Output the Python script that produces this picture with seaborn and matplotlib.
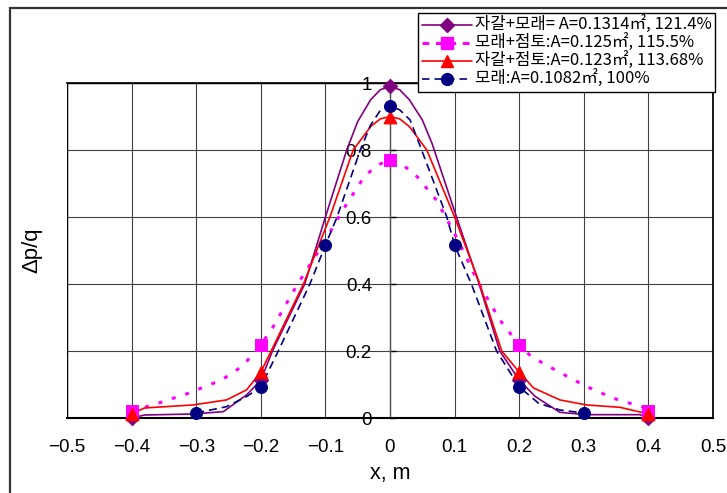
import matplotlib
matplotlib.use("Agg")
import matplotlib.pyplot as plt
import seaborn as sns
from matplotlib.lines import Line2D
from matplotlib.patches import Rectangle

# Marker points (x in m, dp/q)
gp_x = [-0.4, -0.2, 0.0, 0.2, 0.4]        # 자갈+모래
gp_y = [0.0, 0.113, 0.99, 0.113, 0.0]
sc_x = [-0.4, -0.2, 0.0, 0.2, 0.4]        # 모래+점토
sc_y = [0.02, 0.218, 0.77, 0.218, 0.02]
gc_x = [-0.4, -0.2, 0.0, 0.2, 0.4]        # 자갈+점토
gc_y = [0.012, 0.137, 0.90, 0.137, 0.012]
sd_x = [-0.3, -0.2, -0.1, 0.0, 0.1, 0.2, 0.3]  # 모래
sd_y = [0.015, 0.093, 0.516, 0.932, 0.516, 0.093, 0.015]

# Smoothed curves
gp_cx = [-0.4, -0.38, -0.305, -0.258, -0.222, -0.2, -0.182, -0.132, -0.1, -0.067, -0.05,
         -0.03, -0.015, 0.0, 0.015, 0.03, 0.05, 0.065, 0.103, 0.138, 0.17, 0.2, 0.225, 0.263,
         0.304, 0.387, 0.4]
gp_cy = [0.0, 0.009, 0.012, 0.019, 0.069, 0.113, 0.2, 0.4, 0.6, 0.8, 0.885,
         0.95, 0.98, 0.99, 0.98, 0.95, 0.89, 0.82, 0.6, 0.4, 0.2, 0.113, 0.064, 0.017,
         0.01, 0.01, 0.0]
sc_cx = [-0.4, -0.356, -0.312, -0.268, -0.248, -0.227, -0.2, -0.181, -0.143, -0.1, -0.075,
         -0.04, -0.02, 0.0, 0.02, 0.04, 0.072, 0.103, 0.137, 0.17, 0.2, 0.219, 0.261, 0.302,
         0.346, 0.392, 0.4]
sc_cy = [0.02, 0.046, 0.074, 0.108, 0.128, 0.158, 0.218, 0.272, 0.4, 0.53, 0.615,
         0.72, 0.755, 0.77, 0.755, 0.725, 0.65, 0.54, 0.403, 0.293, 0.218, 0.183, 0.138, 0.096,
         0.059, 0.032, 0.02]
gc_cx = [-0.4, -0.38, -0.305, -0.253, -0.222, -0.2, -0.184, -0.134, -0.093, -0.057, -0.03,
         -0.015, 0.0, 0.015, 0.03, 0.057, 0.1, 0.139, 0.173, 0.2, 0.222, 0.263, 0.304, 0.356, 0.4]
gc_cy = [0.012, 0.03, 0.039, 0.054, 0.084, 0.137, 0.2, 0.4, 0.6, 0.8, 0.87,
         0.893, 0.90, 0.893, 0.87, 0.8, 0.6, 0.4, 0.2, 0.137, 0.09, 0.054, 0.039, 0.032, 0.012]
sd_cx = [-0.3, -0.253, -0.222, -0.2, -0.173, -0.124, -0.1, -0.082, -0.046, -0.03, -0.015,
         0.0, 0.015, 0.031, 0.049, 0.088, 0.1, 0.126, 0.165, 0.2, 0.23, 0.263, 0.3]
sd_cy = [0.015, 0.034, 0.064, 0.093, 0.2, 0.4, 0.516, 0.6, 0.8, 0.875, 0.918,
         0.932, 0.92, 0.89, 0.8, 0.6, 0.516, 0.4, 0.2, 0.093, 0.044, 0.024, 0.015]

labels = ["자갈+모래= A=0.1314㎡, 121.4%",
          "모래+점토:A=0.125㎡, 115.5%",
          "자갈+점토:A=0.123㎡, 113.68%",
          "모래:A=0.1082㎡, 100%"]
x_ticks = [-0.5, -0.4, -0.3, -0.2, -0.1, 0.0, 0.1, 0.2, 0.3, 0.4, 0.5]
x_ticklabels = ["\u22120.5", "\u22120.4", "\u22120.3", "\u22120.2", "\u22120.1", "0",
                "0.1", "0.2", "0.3", "0.4", "0.5"]
y_ticks = [0, 0.2, 0.4, 0.6, 0.8, 1.0]
y_ticklabels = ["0", "0.2", "0.4", "0.6", "0.8", "1"]

sns.set_theme(style="white")
plt.rcParams['font.family'] = ['Liberation Sans', 'Noto Sans CJK KR']

fig = plt.figure(figsize=(7.27, 4.93), dpi=100)
ax = fig.add_axes([0.0922, 0.1521, 0.8885, 0.6795])

purple, magenta, red, navy = "#800080", "#FF00FF", "#FF0000", "#000080"
dot_style = (0, (1.3, 3.3))
dash_style = (0, (4.8, 3))

sns.lineplot(x=gp_cx, y=gp_cy, color=purple, linewidth=1.2, ax=ax, zorder=4)
sns.lineplot(x=sc_cx, y=sc_cy, color=magenta, linewidth=2.2, linestyle=dot_style, ax=ax, zorder=4)
sns.lineplot(x=gc_cx, y=gc_cy, color=red, linewidth=1.2, ax=ax, zorder=4)
sns.lineplot(x=sd_cx, y=sd_cy, color=navy, linewidth=1.2, linestyle=dash_style, ax=ax, zorder=4)

sns.scatterplot(x=gp_x, y=gp_y, marker="D", s=55, color=purple, edgecolor=purple, ax=ax, zorder=5, clip_on=False)
sns.scatterplot(x=sc_x, y=sc_y, marker="s", s=75, color=magenta, edgecolor=magenta, ax=ax, zorder=5, clip_on=False)
sns.scatterplot(x=gc_x, y=gc_y, marker="^", s=85, color=red, edgecolor=red, ax=ax, zorder=6, clip_on=False)
sns.scatterplot(x=sd_x, y=sd_y, marker="o", s=75, color=navy, edgecolor=navy, ax=ax, zorder=6, clip_on=False)

ax.set_xlim(-0.5, 0.5)
ax.set_ylim(0, 1)
ax.set_xticks(x_ticks, x_ticklabels)
ax.set_yticks(y_ticks, y_ticklabels)
ax.grid(True, color="#404040", linewidth=0.8)

# vertical axis crosses at x = 0, like the original spreadsheet chart
ax.spines['left'].set_position(('data', 0))
ax.spines['left'].set_color("#555555")
ax.spines['left'].set_linewidth(1.0)
for side in ['top', 'right', 'bottom']:
    ax.spines[side].set_color("black")
ax.spines['bottom'].set_linewidth(1.5)
ax.add_patch(Rectangle((0, 0), 1, 1, transform=ax.transAxes, fill=False,
                       edgecolor="black", linewidth=1.0, zorder=3))
ax.tick_params(axis='y', direction='in', length=4, width=1, pad=13, colors="black",
               left=True, labelsize=13.5)
ax.tick_params(axis='x', length=0, pad=15, colors="black", labelsize=13.5)

ax.set_xlabel("x, m", fontsize=15.5, labelpad=5, color="black")
ax.set_ylabel("Δp/q", fontsize=16, color="black")
ax.yaxis.set_label_coords(-0.038, 0.5)

handles = [
    Line2D([], [], color=purple, linewidth=1.2, marker="D", markersize=7),
    Line2D([], [], color=magenta, linewidth=2.2, linestyle=(0, (2.2, 2.2)), marker="s", markersize=8.5),
    Line2D([], [], color=red, linewidth=1.2, marker="^", markersize=9),
    Line2D([], [], color=navy, linewidth=1.2, linestyle=(0, (4.5, 3)), marker="o", markersize=8.5),
]
leg = fig.legend(handles, labels, loc="upper right", bbox_to_anchor=(0.9835, 0.9736),
                 prop={'family': ['Noto Sans CJK KR', 'Liberation Sans'], 'size': 12},
                 handlelength=3.0, handletextpad=0.2, labelspacing=0.0,
                 borderpad=0.2, borderaxespad=0, fancybox=False, framealpha=1,
                 edgecolor="black")
leg.get_frame().set_linewidth(1.0)
for t in leg.get_texts():
    t.set_color("black")

# outer chart frame (only top and left edges visible in the crop)
fig.add_artist(Rectangle((10 / 727, -0.5), 2, 1.5 - 8 / 493, transform=fig.transFigure,
                         fill=False, edgecolor="#333333", linewidth=1.6))

fig.savefig("out.png", dpi=100)
